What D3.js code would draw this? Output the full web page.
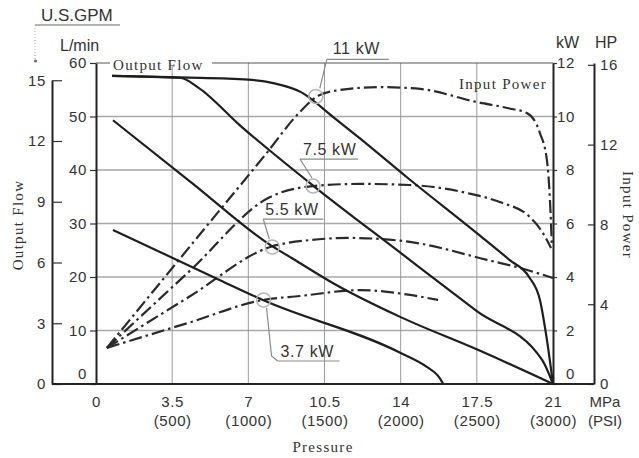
<!DOCTYPE html>
<html>
<head>
<meta charset="utf-8">
<script src="https://cdn.jsdelivr.net/npm/d3@7"></script>
<style>
  html, body { margin: 0; padding: 0; background: #fff; }
  svg { display: block; }
  .sans { font-family: "Liberation Sans", Arial, sans-serif; fill: #333; }
  .serif { font-family: "Liberation Serif", "Times New Roman", serif; fill: #333; letter-spacing: 1.3px; }
</style>
</head>
<body>
<svg id="chart" width="639" height="458"></svg>
<script>
// Pressure axis (MPa with PSI underneath)
const pressureTicks = [0, 3.5, 7, 10.5, 14, 17.5, 21];
const pressureLabels = ["0", "3.5", "7", "10.5", "14", "17.5", "21"];
const psiLabels = ["", "(500)", "(1000)", "(1500)", "(2000)", "(2500)", "(3000)"];

// Left axes: L/min and U.S. GPM
const flowTicks = [0, 10, 20, 30, 40, 50, 60];
const gpmTicks = [0, 3, 6, 9, 12, 15];
// Right axes: kW and HP
const kwTicks = [0, 2, 4, 6, 8, 10, 12];
const hpTicks = [0, 4, 8, 12, 16];

const motors = ["11 kW", "7.5 kW", "5.5 kW", "3.7 kW"];

// Output flow, [MPa, L/min]
const flow11 = [[0.74, 57.6], [3.9, 57.3], [7.0, 56.9], [8.2, 56.2], [9.4, 54.6], [10.9, 49.9], [12.1, 46.0],
  [14.3, 38.6], [17.5, 28.2], [19.0, 23.2], [19.9, 20.0], [20.4, 15.7], [20.7, 8.8], [21.0, 0]];
const flow75 = [[0.74, 57.6], [3.9, 57.2], [4.7, 55.4], [6.6, 48.4], [10.0, 37.0], [14.0, 24.5], [17.5, 13.6],
  [20.5, 4.5], [21.0, 0]];
const flow55 = [[0.78, 49.3], [4.4, 37.6], [8.0, 26.0], [9.05, 23.4], [11.0, 18.6], [14.0, 12.5], [17.6, 6.3],
  [21.0, 0]];
const flow37 = [[0.78, 28.8], [5.7, 19.4], [7.67, 15.7], [14.0, 5.8], [15.2, 3.2], [15.7, 1.6], [15.9, 0.4],
  [15.95, 0]];

// Input power, [MPa, kW]
const power11 = [[0.5, 1.35], [4.9, 5.72], [7.77, 8.56], [9.37, 10.17], [10.2, 10.77], [11.2, 10.99],
  [13.05, 11.1], [14.9, 11.03], [17.5, 10.54], [19.0, 10.3], [19.8, 10.13], [20.4, 9.38], [20.72, 8.37],
  [20.86, 6.88], [20.95, 5.12]];
const power75 = [[0.5, 1.35], [4.3, 4.22], [8.0, 6.99], [9.97, 7.40], [12.13, 7.48], [14.43, 7.44],
  [17.05, 7.14], [18.56, 6.80], [19.94, 6.24], [20.54, 5.64], [20.91, 5.08]];
const power55 = [[0.5, 1.35], [4.3, 3.27], [8.0, 5.12], [9.83, 5.38], [11.67, 5.46], [14.43, 5.31],
  [17.97, 4.64], [19.48, 4.34], [21.0, 3.96]];
const power37 = [[0.5, 1.35], [4.3, 2.30], [7.67, 3.14], [9.37, 3.29], [12.13, 3.51], [14.43, 3.33],
  [15.72, 3.14]];

// Rated operating point of each motor, [MPa, kW]
const ratedPoints = [[10.1, 10.75], [9.97, 7.40], [8.1, 5.12], [7.7, 3.14]];

const flowSeries = [flow11, flow75, flow55, flow37];
const powerSeries = [power11, power75, power55, power37];

// ---------------------------------------------------------------
const svg = d3.select("#chart");
const plotL = 96, plotR = 553, plotT = 63, plotB = 384;
const gpmX = 52, hpX = 594;
const LPM_PER_GPM = 3.785, KW_PER_HP = 0.7457;

const x = d3.scaleLinear().domain([0, 21]).range([plotL, plotR]);
const yFlow = d3.scaleLinear().domain([0, 60]).range([plotB, plotT]);
const yGpm = d3.scaleLinear().domain([0, 15]).range([plotB, yFlow(15 * LPM_PER_GPM)]);
const yKw = d3.scaleLinear().domain([0, 12]).range([plotB, plotT]);
const yHp = d3.scaleLinear().domain([0, 12 / KW_PER_HP]).range([plotB, plotT]);

// Grid
const grid = svg.append("g");
grid.selectAll("line.h").data(flowTicks.filter(d => d > 0 && d < 60)).join("line")
  .attr("class", "h")
  .attr("x1", plotL).attr("x2", plotR)
  .attr("y1", d => yFlow(d)).attr("y2", d => yFlow(d))
  .attr("stroke", "#a8a8a8").attr("stroke-width", 1.4);
grid.selectAll("line.v").data(pressureTicks.filter(d => d > 0 && d < 21)).join("line")
  .attr("class", "v")
  .attr("x1", d => x(d)).attr("x2", d => x(d))
  .attr("y1", plotT).attr("y2", plotB)
  .attr("stroke", "#9a9a9a").attr("stroke-width", 1);
grid.append("line").attr("x1", plotL).attr("x2", plotR).attr("y1", yFlow(60)).attr("y2", yFlow(60))
  .attr("stroke", "#555").attr("stroke-width", 1.2);

// Axes
function styleAxis(g, size) {
  g.attr("font-family", null).attr("font-size", null);
  g.selectAll("text").attr("class", "sans").attr("font-size", size).attr("letter-spacing", "0.6px");
  g.selectAll(".tick line").attr("stroke", "#333").attr("stroke-width", 1.2);
  g.select(".domain").attr("stroke", "#222").attr("stroke-width", 2);
}

const gFlow = svg.append("g").attr("transform", `translate(${plotL},0)`)
  .call(d3.axisLeft(yFlow).tickValues(flowTicks).tickSizeInner(6).tickSizeOuter(0).tickPadding(3));
styleAxis(gFlow, 15);
gFlow.selectAll(".tick text").filter(d => d === 0).attr("dy", "-0.4em");

const gGpm = svg.append("g").attr("transform", `translate(${gpmX},0)`)
  .call(d3.axisLeft(yGpm).tickValues(gpmTicks).tickSizeInner(-10).tickSizeOuter(0).tickPadding(6));
styleAxis(gGpm, 15);

const gKw = svg.append("g").attr("transform", `translate(${plotR},0)`)
  .call(d3.axisRight(yKw).tickValues(kwTicks).tickSizeInner(4).tickSizeOuter(0));
styleAxis(gKw, 15);
gKw.selectAll(".tick text").attr("text-anchor", "end").attr("x", 22);
gKw.selectAll(".tick text").filter(d => d === 0).attr("dy", "-0.4em");

const gHp = svg.append("g").attr("transform", `translate(${hpX},0)`)
  .call(d3.axisRight(yHp).tickValues(hpTicks).tickSizeInner(-6).tickSizeOuter(0).tickPadding(6));
styleAxis(gHp, 15);

const gP = svg.append("g").attr("transform", `translate(0,${plotB})`)
  .call(d3.axisBottom(x).tickValues(pressureTicks).tickSize(0).tickPadding(12)
    .tickFormat((d, i) => pressureLabels[i]));
styleAxis(gP, 15);
gP.select(".domain").remove();
gP.selectAll(".tick").append("text")
  .attr("class", "sans").attr("font-size", 15).attr("letter-spacing", "0.6px")
  .attr("y", 31).attr("dy", "0.71em").attr("text-anchor", "middle")
  .text((d, i) => psiLabels[i]);

// Base line spanning both outer axes
svg.append("line").attr("x1", gpmX).attr("x2", hpX).attr("y1", plotB).attr("y2", plotB)
  .attr("stroke", "#222").attr("stroke-width", 2);

// Curves
const flowLine = d3.line().x(d => x(d[0])).y(d => yFlow(d[1])).curve(d3.curveMonotoneX);
const powerLine = d3.line().x(d => x(d[0])).y(d => yKw(d[1])).curve(d3.curveMonotoneX);

svg.append("g").selectAll("path").data(powerSeries).join("path")
  .attr("d", powerLine).attr("fill", "none")
  .attr("stroke", "#2a2a2a").attr("stroke-width", 2.2)
  .attr("stroke-dasharray", "13,4,2.5,4");

svg.append("g").selectAll("path").data(flowSeries).join("path")
  .attr("d", flowLine).attr("fill", "none")
  .attr("stroke", "#1e1e1e").attr("stroke-width", 2.2);

// Rated-point callouts
const callouts = [
  { text: [17, -42], rule: [11, 73, -37], leader: [[11, -37], [4, -8]] },
  { text: [-10, -31], rule: [-13, 45, -27], leader: [[-13, -27], [-6, -16], [-1, -8]] },
  { text: [-7, -32], rule: [-9, 51, -28], leader: [[-9, -28], [-3, -8]] },
  { text: [17, 57], rule: [14, 76, 61], leader: [[14, 61], [8, 56], [3, 8]] }
];
const cg = svg.append("g");
ratedPoints.forEach((p, i) => {
  const cx = x(p[0]), cy = yKw(p[1]);
  const c = callouts[i];
  cg.append("circle").attr("cx", cx).attr("cy", cy).attr("r", 7)
    .attr("fill", "none").attr("stroke", "#b5b5b5").attr("stroke-width", 1.5);
  cg.append("line")
    .attr("x1", cx + c.rule[0]).attr("x2", cx + c.rule[1])
    .attr("y1", cy + c.rule[2]).attr("y2", cy + c.rule[2])
    .attr("stroke", "#8a8a8a").attr("stroke-width", 1.2);
  cg.append("path")
    .attr("d", d3.line()(c.leader.map(q => [cx + q[0], cy + q[1]])))
    .attr("fill", "none").attr("stroke", "#8a8a8a").attr("stroke-width", 1.2);
  cg.append("text").attr("class", "sans").attr("font-size", 16).attr("letter-spacing", "0.6px")
    .attr("x", cx + c.text[0]).attr("y", cy + c.text[1])
    .text(motors[i]);
});

// Curve group names inside the plot
svg.append("rect").attr("x", 110).attr("y", 58).attr("width", 102).attr("height", 8).attr("fill", "#fff");
svg.append("text").attr("class", "serif").attr("font-size", 15).attr("x", 113).attr("y", 70).text("Output Flow");
svg.append("text").attr("class", "serif").attr("font-size", 15).attr("x", 547).attr("y", 89)
  .attr("text-anchor", "end").text("Input Power");

// Unit captions
svg.append("text").attr("class", "sans").attr("font-size", 17).attr("x", 41).attr("y", 21).text("U.S.GPM");
svg.append("line").attr("x1", 35).attr("x2", 120).attr("y1", 25).attr("y2", 25)
  .attr("stroke", "#666").attr("stroke-width", 1.2);
svg.append("line").attr("x1", 35).attr("x2", 35).attr("y1", 25).attr("y2", 60)
  .attr("stroke", "#aaa").attr("stroke-width", 1).attr("stroke-dasharray", "1,2");
svg.append("circle").attr("cx", 35.5).attr("cy", 61).attr("r", 1.5).attr("fill", "#666");
svg.append("text").attr("class", "sans").attr("font-size", 16).attr("x", 60).attr("y", 51).text("L/min");
svg.append("text").attr("class", "sans").attr("font-size", 16).attr("x", 556).attr("y", 48).text("kW");
svg.append("text").attr("class", "sans").attr("font-size", 16).attr("x", 595).attr("y", 48).text("HP");
svg.append("text").attr("class", "sans").attr("font-size", 15).attr("x", 605).attr("y", 402)
  .attr("dy", "0.35em").attr("text-anchor", "middle").text("MPa");
svg.append("text").attr("class", "sans").attr("font-size", 15).attr("x", 605).attr("y", 421)
  .attr("dy", "0.35em").attr("text-anchor", "middle").text("(PSI)");

// Axis titles
svg.append("text").attr("class", "serif").attr("font-size", 15)
  .attr("x", 323).attr("y", 452).attr("text-anchor", "middle").text("Pressure");
svg.append("text").attr("class", "serif").attr("font-size", 15)
  .attr("transform", "translate(23,225) rotate(-90)").attr("text-anchor", "middle").text("Output Flow");
svg.append("text").attr("class", "serif").attr("font-size", 15)
  .attr("transform", "translate(623,215) rotate(90)").attr("text-anchor", "middle").text("Input Power");
</script>
</body>
</html>
